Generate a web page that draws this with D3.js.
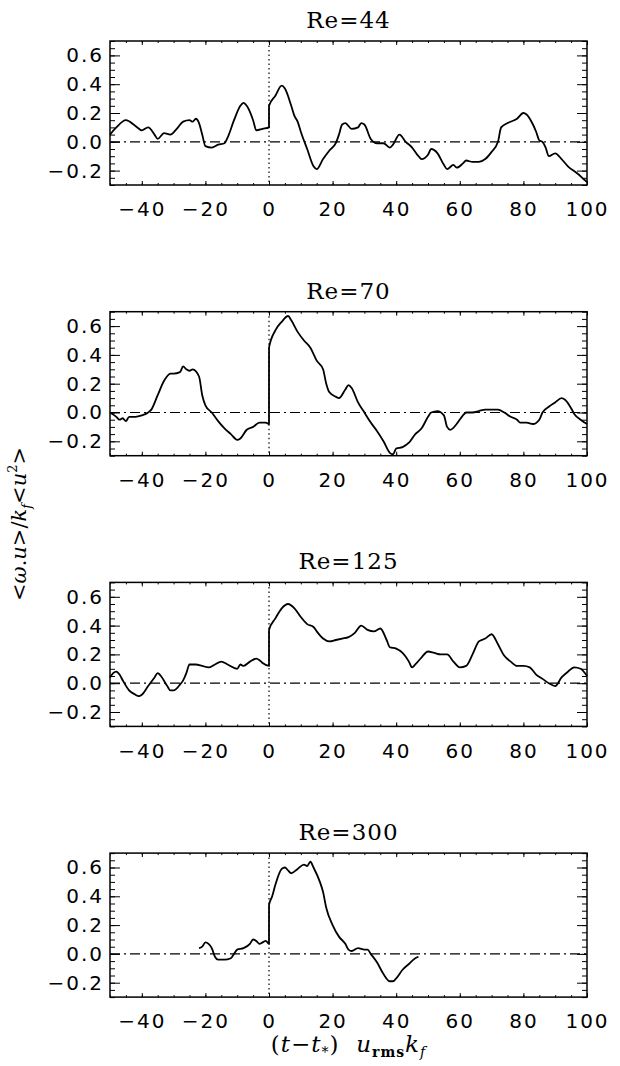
<!DOCTYPE html>
<html>
<head>
<meta charset="utf-8">
<script src="https://cdn.jsdelivr.net/npm/d3@7"></script>
<style>
  body { margin: 0; background: #fff; }
</style>
</head>
<body>
<svg id="chart" width="620" height="1066"></svg>
<script>
// helicity-like correlation <w.u>/kf<u^2> against shifted time, four Reynolds numbers

const re44T = [-50, -48, -45, -42, -40, -38, -36, -35, -33, -31, -29, -27, -25, -24, -23, -22, -21, -20, -18, -16, -14, -13, -11, -9, -8, -7, -5, -4, -2, 0,
  0.01, 2, 4, 5, 7, 8, 9, 10, 12, 14, 15, 17, 19, 21, 22, 23, 24, 26, 28, 29, 30, 32, 34, 36, 38, 39, 41, 43, 45, 47, 48, 50, 51, 53, 55, 56, 58, 59,
  61, 62, 64, 66, 68, 70, 72, 73, 75, 78, 80, 81, 83, 84, 85, 86, 87, 88, 90, 92, 94, 97, 99, 100];
const re44V = [0.05, 0.10, 0.15, 0.11, 0.08, 0.10, 0.05, 0.02, 0.06, 0.05, 0.09, 0.14, 0.15, 0.14, 0.16, 0.13, 0.05, -0.03, -0.04, -0.02, -0.01, 0.03, 0.15, 0.25, 0.27, 0.25, 0.15, 0.08, 0.09, 0.10,
  0.25, 0.32, 0.39, 0.37, 0.25, 0.18, 0.14, 0.07, -0.05, -0.17, -0.19, -0.12, -0.06, -0.01, 0.05, 0.12, 0.13, 0.09, 0.10, 0.13, 0.12, 0.02, -0.01, -0.01, -0.04, -0.02, 0.05, 0.00, -0.04, -0.10, -0.12, -0.09, -0.05, -0.08, -0.16, -0.19, -0.16, -0.18,
  -0.15, -0.13, -0.14, -0.14, -0.12, -0.07, 0.00, 0.10, 0.13, 0.16, 0.20, 0.19, 0.12, 0.07, 0.01, 0.00, -0.04, -0.10, -0.08, -0.12, -0.17, -0.22, -0.26, -0.28];

const re70T = [-50, -48, -47, -46, -45, -44, -42, -40, -38, -37, -35, -33, -31, -30, -28, -27, -26, -25, -24, -22, -21, -20, -18, -16, -14, -12, -10, -9, -7, -5, -3, -1, 0,
  0.01, 2, 4, 6, 7, 9, 11, 13, 15, 17, 18, 19, 21, 22, 24, 25, 26, 28, 30, 32, 34, 36, 38, 39, 40, 42, 44, 46, 48, 50, 51, 53, 55, 56, 57, 59,
  61, 62, 64, 66, 68, 70, 72, 74, 76, 78, 79, 81, 83, 85, 86, 88, 90, 92, 93, 95, 96, 98, 100];
const re70V = [0.00, -0.03, -0.05, -0.04, -0.06, -0.03, -0.03, -0.02, 0.00, 0.02, 0.12, 0.22, 0.27, 0.27, 0.28, 0.32, 0.30, 0.29, 0.30, 0.25, 0.12, 0.05, 0.00, -0.06, -0.11, -0.15, -0.19, -0.18, -0.12, -0.10, -0.07, -0.07, -0.08,
  0.45, 0.57, 0.63, 0.67, 0.64, 0.56, 0.50, 0.45, 0.36, 0.30, 0.20, 0.14, 0.11, 0.10, 0.16, 0.19, 0.17, 0.07, 0.00, -0.07, -0.13, -0.20, -0.28, -0.29, -0.25, -0.24, -0.21, -0.15, -0.11, -0.03, 0.00, 0.01, -0.02, -0.10, -0.12, -0.08,
  -0.02, 0.00, 0.00, 0.01, 0.02, 0.02, 0.02, 0.00, -0.03, -0.05, -0.07, -0.07, -0.08, -0.05, 0.00, 0.04, 0.07, 0.10, 0.09, 0.03, -0.01, -0.05, -0.08];

const re125T = [-50, -49, -48, -47, -46, -44, -42, -41, -40, -38, -36, -35, -34, -32, -31, -30, -28, -27, -26, -25, -23, -21, -19, -17, -15, -13, -10, -9, -8, -6, -4, -3, -2, 0,
  0.01, 2, 4, 6, 8, 10, 12, 14, 15, 17, 19, 21, 23, 25, 27, 29, 31, 33, 35, 37, 38, 40, 42, 44, 45, 46, 48, 50, 52, 54, 56, 58, 60,
  62, 64, 66, 68, 70, 72, 74, 76, 78, 80, 82, 84, 86, 88, 90, 92, 94, 96, 98, 100];
const re125V = [0.04, 0.07, 0.08, 0.06, 0.02, -0.05, -0.08, -0.09, -0.08, -0.02, 0.04, 0.07, 0.05, -0.02, -0.05, -0.05, -0.01, 0.02, 0.07, 0.13, 0.13, 0.12, 0.11, 0.13, 0.15, 0.13, 0.10, 0.13, 0.12, 0.15, 0.17, 0.16, 0.14, 0.12,
  0.37, 0.45, 0.52, 0.55, 0.52, 0.46, 0.41, 0.39, 0.36, 0.31, 0.29, 0.30, 0.31, 0.32, 0.35, 0.40, 0.37, 0.36, 0.38, 0.30, 0.25, 0.24, 0.21, 0.15, 0.11, 0.13, 0.18, 0.22, 0.21, 0.20, 0.20, 0.15, 0.11,
  0.12, 0.20, 0.29, 0.31, 0.34, 0.27, 0.19, 0.15, 0.12, 0.12, 0.11, 0.06, 0.03, 0.00, -0.02, 0.04, 0.08, 0.11, 0.10, 0.05];

const re300T = [-22, -21, -20, -19, -18, -17, -16, -14, -12, -11, -10, -8, -6, -5, -4, -3, -2, -1, 0,
  0.01, 1, 2, 4, 5, 6, 7, 9, 11, 12, 13, 14, 16, 17, 18, 20, 22, 24, 25, 26, 28, 30, 31, 32, 34, 36, 38, 39, 40, 42, 44, 46, 47];
const re300V = [0.04, 0.05, 0.08, 0.07, 0.04, -0.02, -0.04, -0.04, -0.03, 0.00, 0.03, 0.04, 0.07, 0.10, 0.09, 0.07, 0.08, 0.09, 0.07,
  0.34, 0.40, 0.48, 0.59, 0.60, 0.58, 0.56, 0.59, 0.62, 0.61, 0.64, 0.60, 0.50, 0.43, 0.32, 0.20, 0.12, 0.07, 0.03, 0.02, 0.04, 0.03, 0.03, 0.00, -0.06, -0.14, -0.19, -0.19, -0.17, -0.11, -0.07, -0.03, -0.02];

const titles = ['Re=44', 'Re=70', 'Re=125', 'Re=300'];
const timeSeries = [re44T, re70T, re125T, re300T];
const valueSeries = [re44V, re70V, re125V, re300V];

const xTicks = [-40, -20, 0, 20, 40, 60, 80, 100];
const yTicks = [-0.2, 0.0, 0.2, 0.4, 0.6];

const svg = d3.select('#chart');
const left = 110, right = 587, panelH = 144, firstTop = 41, step = 270.7;
const SANS = '"DejaVu Sans", sans-serif';
const SERIF = '"DejaVu Serif", serif';

const x = d3.scaleLinear().domain([-50, 100]).range([left, right]);

titles.forEach((title, i) => {
    const top = firstTop + i * step;
    const bottom = top + panelH;
    const y = d3.scaleLinear().domain([-0.3, 0.7]).range([bottom, top]);
    const g = svg.append('g');

    // ticks point inward on all four sides, IDL style
    const styleAxis = (sel) => {
        sel.select('.domain').remove();
        sel.selectAll('line').attr('stroke', '#000').attr('stroke-width', 1);
        sel.selectAll('text').attr('fill', '#000')
            .style('font-family', SANS).style('font-size', '20px').style('letter-spacing', '2px');
    };
    const minorX = d3.range(-50, 100.1, 5);
    const minorY = d3.range(-0.3, 0.701, 0.05);

    g.append('g').attr('transform', `translate(0,${bottom})`)
        .call(d3.axisBottom(x).tickValues(minorX).tickSize(-2).tickFormat('')).call(styleAxis);
    g.append('g').attr('transform', `translate(0,${top})`)
        .call(d3.axisTop(x).tickValues(minorX).tickSize(-2).tickFormat('')).call(styleAxis);
    g.append('g').attr('transform', `translate(${left},0)`)
        .call(d3.axisLeft(y).tickValues(minorY).tickSize(-5).tickFormat('')).call(styleAxis);
    g.append('g').attr('transform', `translate(${right},0)`)
        .call(d3.axisRight(y).tickValues(minorY).tickSize(-5).tickFormat('')).call(styleAxis);

    g.append('g').attr('transform', `translate(0,${bottom})`)
        .call(d3.axisBottom(x).tickValues(xTicks).tickSize(-4).tickPadding(17).tickFormat(d3.format('d')))
        .call(styleAxis);
    g.append('g').attr('transform', `translate(0,${top})`)
        .call(d3.axisTop(x).tickValues(xTicks).tickSize(-4).tickFormat('')).call(styleAxis);
    g.append('g').attr('transform', `translate(${left},0)`)
        .call(d3.axisLeft(y).tickValues(yTicks).tickSize(-10).tickPadding(6).tickFormat(d3.format('.1f')))
        .call(styleAxis);
    g.append('g').attr('transform', `translate(${right},0)`)
        .call(d3.axisRight(y).tickValues(yTicks).tickSize(-10).tickFormat('')).call(styleAxis);

    // zero reference (dash-dot) and t = t* marker (dotted)
    g.append('line')
        .attr('x1', left).attr('x2', right).attr('y1', y(0)).attr('y2', y(0))
        .attr('stroke', '#000').attr('stroke-width', 1.2).attr('stroke-dasharray', '10 4 2 4');
    g.append('line')
        .attr('x1', x(0)).attr('x2', x(0)).attr('y1', top).attr('y2', bottom)
        .attr('stroke', '#000').attr('stroke-width', 1.2).attr('stroke-dasharray', '1.5 3');

    const ts = timeSeries[i], vs = valueSeries[i];
    g.append('path')
        .datum(ts.map((t, k) => [t, vs[k]]))
        .attr('fill', 'none').attr('stroke', '#000').attr('stroke-width', 1.8)
        .attr('stroke-linejoin', 'round')
        .attr('d', d3.line().curve(d3.curveMonotoneX).x((d) => x(d[0])).y((d) => y(d[1])));

    g.append('rect')
        .attr('x', left).attr('y', top).attr('width', right - left).attr('height', panelH)
        .attr('fill', 'none').attr('stroke', '#000').attr('stroke-width', 1.5);

    g.append('text')
        .attr('x', (left + right) / 2).attr('y', top - 13)
        .attr('text-anchor', 'middle')
        .style('font-family', SERIF).style('font-size', '23px').style('letter-spacing', '1px')
        .text(title);
});

// x axis title: (t - t*) u_rms k_f
const xt = svg.append('text')
    .attr('x', (left + right) / 2).attr('y', 1052)
    .attr('text-anchor', 'middle')
    .style('font-family', SERIF).style('font-size', '23px').style('letter-spacing', '1px');
xt.append('tspan').text('(');
xt.append('tspan').style('font-style', 'italic').text('t');
xt.append('tspan').text('\u2212');
xt.append('tspan').style('font-style', 'italic').text('t');
xt.append('tspan').attr('dy', 5).style('font-size', '14px').text('*');
xt.append('tspan').attr('dy', -5).text(')\u00a0\u00a0');
xt.append('tspan').style('font-style', 'italic').text('u');
xt.append('tspan').attr('dy', 5).style('font-size', '14px').style('font-weight', 'bold').text('rms');
xt.append('tspan').attr('dy', -5).style('font-style', 'italic').text('k');
xt.append('tspan').attr('dy', 5).style('font-size', '14px').style('font-style', 'italic').text('f');

// y axis title: <w.u>/k_f<u^2>
const yt = svg.append('text')
    .attr('transform', 'translate(26,524) rotate(-90)')
    .attr('text-anchor', 'middle')
    .style('font-family', SERIF).style('font-size', '21px');
yt.append('tspan').text('<');
yt.append('tspan').style('font-style', 'italic').text('\u03c9');
yt.append('tspan').text('.');
yt.append('tspan').style('font-style', 'italic').text('u');
yt.append('tspan').text('>/');
yt.append('tspan').style('font-style', 'italic').text('k');
yt.append('tspan').attr('dy', 5).style('font-size', '13px').style('font-style', 'italic').text('f');
yt.append('tspan').attr('dy', -5).text('<');
yt.append('tspan').style('font-style', 'italic').text('u');
yt.append('tspan').attr('dy', -9).style('font-size', '13px').text('2');
yt.append('tspan').attr('dy', 9).text('>');
</script>
</body>
</html>
